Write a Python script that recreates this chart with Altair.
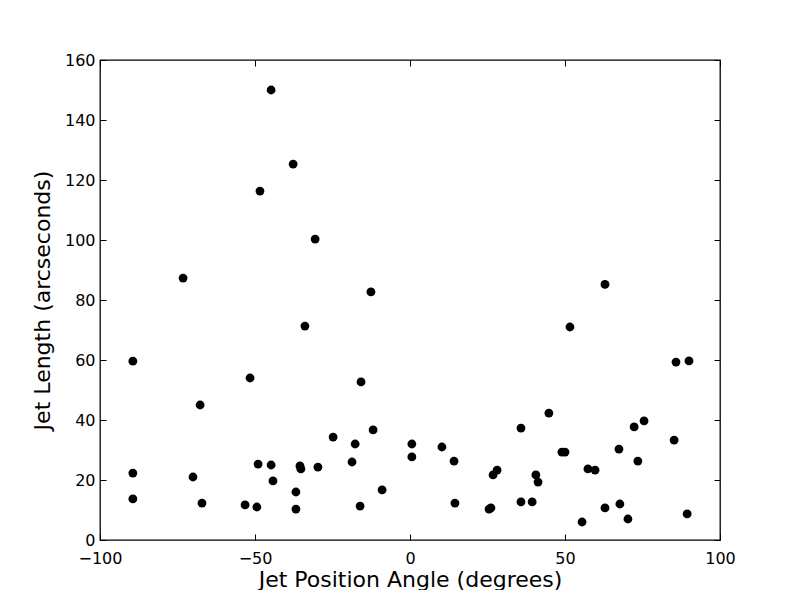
import altair as alt
import pandas as pd

angle = [-89.4, -89.4, -89.4, -73.2, -70.0, -67.7, -67.1, -53.2, -51.6, -49.4,
         -49.0, -48.4, -44.8, -44.8, -44.2, -37.7, -36.8, -36.8, -35.5, -35.2,
         -33.9, -30.6, -29.7, -24.8, -18.7, -17.7, -16.1, -15.8, -12.6, -11.9,
         -9.0, 0.6, 0.6, 10.3, 14.2, 14.5, 25.5, 26.1, 26.8, 28.1,
         35.8, 35.8, 39.4, 40.6, 41.3, 44.8, 49.0, 50.0, 51.6, 55.5,
         57.4, 59.7, 62.9, 62.9, 67.4, 67.7, 70.3, 72.3, 73.5, 75.5,
         85.2, 85.8, 89.4, 90.0]
length = [59.6, 22.3, 13.7, 87.3, 21.0, 45.0, 12.3, 11.7, 54.0, 11.0,
          25.3, 116.3, 150.0, 25.0, 19.7, 125.3, 16.0, 10.3, 24.7, 23.7,
          71.3, 100.3, 24.3, 34.3, 26.0, 32.0, 11.3, 52.7, 82.7, 36.7,
          16.7, 32.0, 27.7, 31.0, 26.3, 12.3, 10.3, 10.7, 21.7, 23.3,
          37.3, 12.7, 12.7, 21.7, 19.3, 42.3, 29.3, 29.3, 71.0, 6.0,
          23.7, 23.3, 85.2, 10.7, 30.3, 12.0, 7.0, 37.7, 26.3, 39.7,
          33.3, 59.3, 8.7, 59.7]

x_ticks = [-100, -50, 0, 50, 100]
y_ticks = [0, 20, 40, 60, 80, 100, 120, 140, 160]

df = pd.DataFrame({"angle": angle, "length": length})

FONT = "DejaVu Sans"
xscale = alt.Scale(domain=[-100, 100], nice=False, zero=False)
yscale = alt.Scale(domain=[0, 160], nice=False, zero=False)
minus = "replace(datum.label, '-', '\u2212')"

base = alt.Chart(df)

main = base.mark_circle(size=78, color="black", opacity=1).encode(
    x=alt.X("angle:Q", scale=xscale,
            axis=alt.Axis(values=x_ticks, tickSize=0, domain=False, grid=False,
                          labelFlush=False, labelOverlap=False,
                          labelPadding=10, labelFontSize=16, labelFont=FONT,
                          labelColor="black", labelExpr=minus,
                          title="Jet Position Angle (degrees)", titleFont=FONT,
                          titleFontSize=22, titleFontWeight="normal",
                          titleColor="black", titlePadding=3, orient="bottom")),
    y=alt.Y("length:Q", scale=yscale,
            axis=alt.Axis(values=y_ticks, tickSize=0, domain=False, grid=False,
                          labelFlush=False, labelOverlap=False,
                          labelPadding=5, labelFontSize=16, labelFont=FONT,
                          labelColor="black",
                          title="Jet Length (arcseconds)", titleFont=FONT,
                          titleFontSize=22, titleFontWeight="normal",
                          titleColor="black", titlePadding=10, orient="left")),
)

def tick_axis(orient, values):
    return alt.Axis(values=values, tickSize=6, tickColor="black", tickWidth=1,
                    offset=-6, labels=False, domain=False, grid=False,
                    title=None, orient=orient)

ticks1 = base.mark_circle(opacity=0).encode(
    x=alt.X("angle:Q", scale=xscale, axis=tick_axis("bottom", x_ticks)),
    y=alt.Y("length:Q", scale=yscale, axis=tick_axis("left", y_ticks)),
)
ticks2 = base.mark_circle(opacity=0).encode(
    x=alt.X("angle:Q", scale=xscale, axis=tick_axis("top", x_ticks)),
    y=alt.Y("length:Q", scale=yscale, axis=tick_axis("right", y_ticks)),
)

chart = alt.layer(main, ticks1, ticks2).resolve_axis(
    x="independent", y="independent"
).properties(
    width=620, height=480,
    background="white",
    autosize=alt.AutoSizeParams(type="none"),
    padding={"left": 92, "top": 52, "right": 70, "bottom": 50},
).configure_view(stroke="black", strokeWidth=1.3)

chart.save("out.html", embed_options={"renderer": "svg", "actions": False})
